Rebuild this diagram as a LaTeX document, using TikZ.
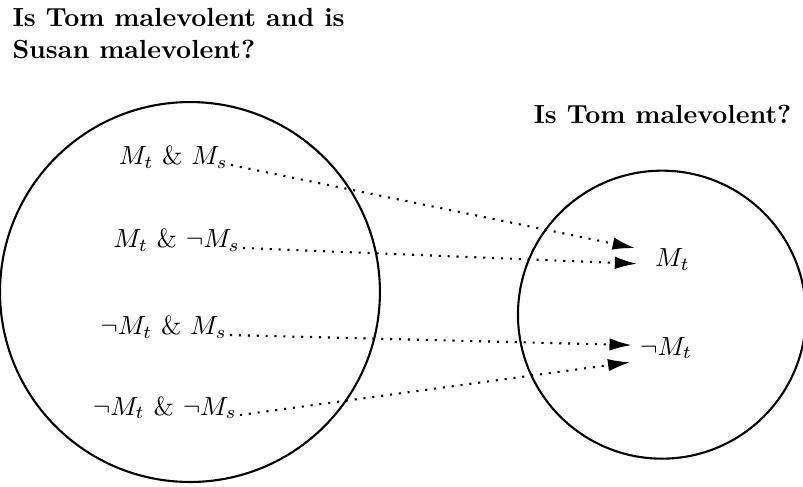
\documentclass[tikz,border=0pt]{standalone}
\usepackage{amsmath,amssymb}
\usetikzlibrary{calc}
\usetikzlibrary{arrows.meta}

\begin{document}
\begin{tikzpicture}[
  every node/.style={font=\normalsize},
  world/.style={circle, draw=black, line width=0.8pt, inner sep=0pt},
  title/.style={font=\bfseries, align=left, inner sep=0pt},
  prop/.style={inner sep=1pt},
  link/.style={line width=0.8pt, dash pattern=on 0.8pt off 2.6pt,
    -{Latex[length=8.5pt, width=4.8pt]}}
]
\useasboundingbox (0,0) rectangle (10.779,6.524);

% ====== TITLES ======
\node[title, anchor=north west] (qBoth) at (0.161,6.416)
    {Is Tom malevolent and is\\Susan malevolent?};
\node[title, anchor=base west] (qTom) at (7.155,4.872) {Is Tom malevolent?};

% ====== WORLDS ======
\node[world, minimum size=5.10cm] (left) at (2.550,2.604) {};
\node[world, minimum size=3.866cm] (right) at (8.886,2.300) {};

% ====== PROPOSITIONS ======
\node[prop, anchor=base east] (tt) at (3.101,4.309) {$M_t$ \& $M_s$};
\node[prop, anchor=base east] (tf) at (3.262,3.195) {$M_t$ \& $\neg M_s$};
\node[prop, anchor=base east] (ft) at (3.087,2.027) {$\neg M_t$ \& $M_s$};
\node[prop, anchor=base east] (ff) at (3.221,0.953) {$\neg M_t$ \& $\neg M_s$};

\node[prop, anchor=base west] (Mt) at (8.752,2.940) {$M_t$};
\node[prop, anchor=base west] (nMt) at (8.550,1.758) {$\neg M_t$};

% ====== PROJECTION ======
\draw[link] (tt.base east) -- ($(Mt.west)+(-0.23,0.16)$);
\draw[link] (tf.base east) -- ($(Mt.west)+(-0.20,-0.05)$);
\draw[link] (ft.base east) -- ($(nMt.west)+(-0.07,0.04)$);
\draw[link] (ff.base east) -- ($(nMt.west)+(-0.09,-0.19)$);

\end{tikzpicture}
\end{document}
